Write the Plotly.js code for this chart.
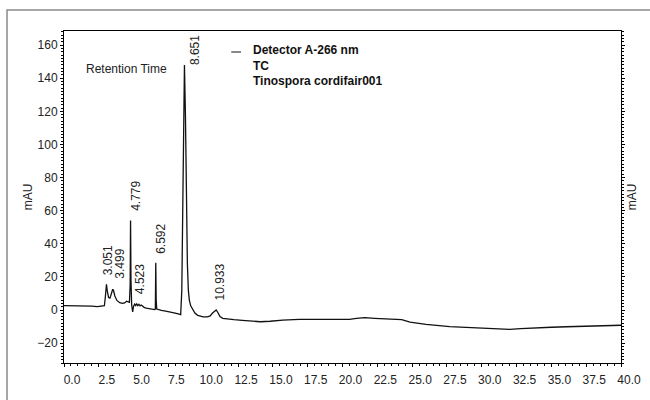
<!DOCTYPE html>
<html>
<head>
<meta charset="utf-8">
<script src="https://cdn.plot.ly/plotly-3.0.1.min.js"></script>
<style>
  html, body { margin: 0; padding: 0; background: #ffffff; }
  #chart { width: 650px; height: 400px; }
</style>
</head>
<body>
<div id="chart"></div>
<script>
// ---- data ----
const seriesName = "Detector A-266 nm";
const sampleLines = ["TC", "Tinospora cordifair001"];

const time = [0, 0.5, 1.0, 1.5, 2.0, 2.4, 2.7, 2.9, 2.97, 3.05, 3.1, 3.2, 3.3, 3.4, 3.5, 3.55, 3.65, 3.8,
  4.0, 4.2, 4.35, 4.5, 4.6, 4.7, 4.75, 4.78, 4.81, 4.86, 4.93, 5.0, 5.08, 5.15, 5.22, 5.3, 5.38, 5.46,
  5.55, 5.65, 5.75, 5.9, 6.1, 6.3, 6.5, 6.56, 6.59, 6.62, 6.66, 6.8, 7.0, 7.3, 7.6, 7.9, 8.2, 8.38,
  8.46, 8.52, 8.58, 8.65, 8.72, 8.79, 8.86, 8.93, 9.0, 9.1, 9.25, 9.4, 9.6, 9.8, 10.0, 10.3, 10.5,
  10.65, 10.8, 10.93, 11.05, 11.2, 11.4, 11.7, 12.2, 12.8, 13.4, 14.1, 14.8, 15.7, 16.9, 18.0, 19.0,
  20.5, 21.0, 21.6, 22.3, 23.4, 24.25, 24.85, 26.0, 27.7, 29.0, 30.1, 31.0, 32.0, 32.8, 33.7, 35.0,
  36.1, 37.3, 38.5, 39.7, 40.0];

const signal = [2.7, 2.7, 2.6, 2.5, 2.3, 2.1, 2.2, 2.6, 8, 15.5, 12, 7.5, 7.2, 10, 12.5, 12, 8.5, 5.8,
  4.4, 4.0, 4.3, 5.3, 5.0, 4.6, 15, 54, 18, 3, -1.2, 2.5, 3.6, 2.7, 3.7, 2.6, 3.4, 2.5,
  3.0, 2.2, 1.6, 1.1, 0.8, 0.6, 0.3, 0.6, 28.6, 6, 0.6, 0.2, -0.2, -0.7, -1.1, -1.7, -2.4, -2.8,
  12, 50, 120, 148, 118, 62, 28, 12, 6, 2.5, 0, -1.8, -3.2, -3.9, -4.2, -4.2, -3.6,
  -2, -0.6, 0, -1.5, -4, -5, -5.4, -5.8, -6.2, -6.5, -7.1, -6.8, -6.1, -5.7, -5.8, -5.7,
  -5.6, -5.0, -4.6, -5.0, -5.3, -5.8, -7.3, -8.7, -10.0, -10.6, -11.1, -11.5, -11.7, -11.3, -10.8, -10.4,
  -10.1, -9.8, -9.5, -9.2, -9.2];

// peak retention-time labels
const peakLabels = ["3.051", "3.499", "4.779", "4.523", "6.592", "8.651", "10.933"];

const xTickVals = [0, 2.5, 5, 7.5, 10, 12.5, 15, 17.5, 20, 22.5, 25, 27.5, 30, 32.5, 35, 37.5, 40];
const xTickText = ["0.0", "2.5", "5.0", "7.5", "10.0", "12.5", "15.0", "17.5", "20.0", "22.5", "25.0",
  "27.5", "30.0", "32.5", "35.0", "37.5", "40.0"];
const yTickVals = [-20, 0, 20, 40, 60, 80, 100, 120, 140, 160];

// ---- placement of peak labels (layout only) ----
const labelPos = [[3.12, 20], [4.0, 17.5], [5.16, 58.6], [5.46, 8.4], [7.0, 33], [9.37, 147], [11.2, 4.8]];

const FONT = "Arial, 'Liberation Sans', sans-serif";

const trace = {
  x: time, y: signal, type: "scatter", mode: "lines", name: seriesName,
  line: { color: "#111111", width: 1.3 }, showlegend: false, hoverinfo: "x+y"
};

const annotations = peakLabels.map((t, i) => ({
  x: labelPos[i][0], y: labelPos[i][1], xref: "x", yref: "y",
  text: t, textangle: -90, showarrow: false, xanchor: "center", yanchor: "bottom",
  font: { family: FONT, size: 12, color: "#222" }
}));

annotations.push({
  x: 0.1122, y: 0.885, xref: "paper", yref: "paper", text: "Retention Time",
  showarrow: false, xanchor: "center", yanchor: "middle",
  font: { family: FONT, size: 12, color: "#222" }
});
const legendY = [0.9428, 0.8946, 0.8494];
[seriesName].concat(sampleLines).forEach((t, i) => {
  annotations.push({
    x: 0.3357, y: legendY[i], xref: "paper", yref: "paper", text: "<b>" + t + "</b>",
    showarrow: false, xanchor: "left", yanchor: "middle",
    font: { family: FONT, size: 12, color: "#111" }
  });
});
annotations.push({
  x: 1.02, y: 0.5, xref: "paper", yref: "paper", text: "mAU", textangle: -90,
  showarrow: false, xanchor: "center", yanchor: "middle",
  font: { family: FONT, size: 12, color: "#222" }
});

const layout = {
  width: 650, height: 400,
  margin: { l: 64, r: 29, t: 31, b: 37 },
  paper_bgcolor: "#ffffff", plot_bgcolor: "#ffffff",
  font: { family: FONT, size: 12, color: "#222" },
  showlegend: false,
  xaxis: {
    range: [0, 40], tickvals: xTickVals, ticktext: xTickText,
    showgrid: false, zeroline: false, showline: true, linecolor: "#000", linewidth: 1, mirror: true,
    ticks: "outside", ticklen: 3, tickcolor: "#000", ticklabelshift: 8, ticklabelstandoff: 3,
    minor: { dtick: 0.5, tick0: 0, ticks: "outside", ticklen: 2, tickcolor: "#000", showgrid: false },
    tickfont: { family: FONT, size: 12, color: "#222" }
  },
  yaxis: {
    range: [-32, 168.5], tickvals: yTickVals,
    showgrid: false, zeroline: false, showline: true, linecolor: "#000", linewidth: 1, mirror: "ticks",
    ticks: "outside", ticklen: 3, tickcolor: "#000",
    minor: { dtick: 2, tick0: 0, ticks: "outside", ticklen: 2, tickcolor: "#000", showgrid: false },
    tickfont: { family: FONT, size: 12, color: "#222" },
    title: { text: "mAU", standoff: 2, font: { family: FONT, size: 12, color: "#222" } }
  },
  annotations: annotations,
  shapes: [
    { type: "rect", xref: "paper", yref: "paper", x0: -0.1023, x1: 1.12, y0: -0.15, y1: 1.0633,
      line: { color: "#8a8a8a", width: 1.5 }, layer: "below" },
    { type: "line", xref: "paper", yref: "paper", x0: 0.3003, x1: 0.3178, y0: 0.9367, y1: 0.9367,
      line: { color: "#111", width: 1 } }
  ]
};

Plotly.newPlot("chart", [trace], layout, { displayModeBar: false, staticPlot: true });
</script>
</body>
</html>
